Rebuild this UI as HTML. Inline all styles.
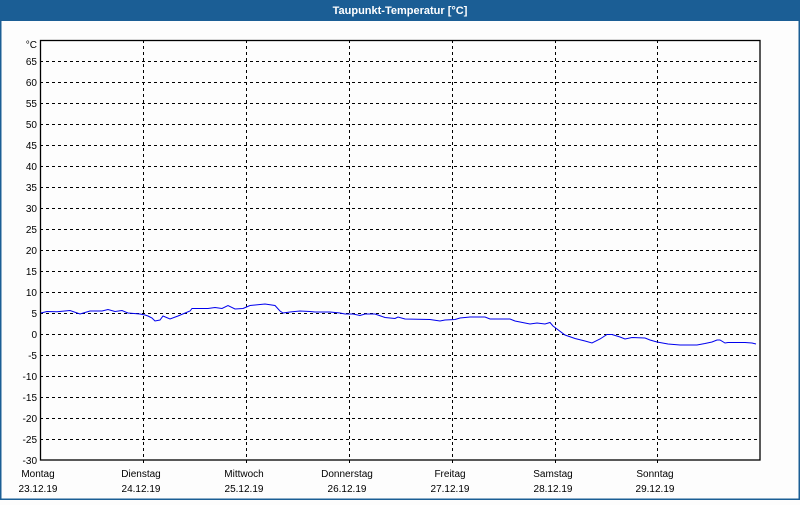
<!DOCTYPE html>
<html><head><meta charset="utf-8"><style>
body{margin:0;width:800px;height:500px;overflow:hidden;background:#fdfdfd;font-family:"Liberation Sans",sans-serif}
</style></head><body>
<svg width="800" height="500" xmlns="http://www.w3.org/2000/svg" font-family="Liberation Sans, sans-serif">
<rect x="0" y="0" width="800" height="500" fill="#fdfdfd"/>
<rect x="0" y="0" width="800" height="21" fill="#1b5e95"/>
<rect x="0" y="0" width="1.5" height="500" fill="#1b5e95"/>
<rect x="798.5" y="0" width="1.5" height="500" fill="#1b5e95"/>
<rect x="0" y="498.5" width="800" height="1.5" fill="#1b5e95"/>
<text x="400" y="14" fill="#fff" font-size="11" font-weight="bold" text-anchor="middle">Taupunkt-Temperatur [°C]</text>
<g stroke="#000" stroke-width="1" stroke-dasharray="3,3" fill="none">
<path d="M40 61.5H760M40 82.5H760M40 103.5H760M40 124.5H760M40 145.5H760M40 166.5H760M40 187.5H760M40 208.5H760M40 229.5H760M40 250.5H760M40 271.5H760M40 292.5H760M40 313.5H760M40 334.5H760M40 355.5H760M40 376.5H760M40 397.5H760M40 418.5H760M40 439.5H760"/>
<path d="M143.5 40V465M246.5 40V465M349.5 40V465M452.5 40V465M555.5 40V465M657.5 40V465"/>
</g>
<rect x="40.5" y="40.5" width="719.5" height="419.5" fill="none" stroke="#000" stroke-width="1.3"/>
<g font-size="10" fill="#000" text-anchor="end">
<text x="37" y="48">°C</text>
<text x="37" y="65">65</text><text x="37" y="86">60</text><text x="37" y="107">55</text><text x="37" y="128">50</text><text x="37" y="149">45</text><text x="37" y="170">40</text><text x="37" y="191">35</text><text x="37" y="212">30</text><text x="37" y="233">25</text><text x="37" y="254">20</text><text x="37" y="275">15</text><text x="37" y="296">10</text><text x="37" y="317">5</text><text x="37" y="338">0</text><text x="37" y="359">-5</text><text x="37" y="380">-10</text><text x="37" y="401">-15</text><text x="37" y="422">-20</text><text x="37" y="443">-25</text><text x="37" y="464">-30</text>
</g>
<g font-size="10" fill="#000" text-anchor="middle">
<text x="38" y="477">Montag</text><text x="38" y="492">23.12.19</text>
<text x="141" y="477">Dienstag</text><text x="141" y="492">24.12.19</text>
<text x="244" y="477">Mittwoch</text><text x="244" y="492">25.12.19</text>
<text x="347" y="477">Donnerstag</text><text x="347" y="492">26.12.19</text>
<text x="450" y="477">Freitag</text><text x="450" y="492">27.12.19</text>
<text x="553" y="477">Samstag</text><text x="553" y="492">28.12.19</text>
<text x="655" y="477">Sonntag</text><text x="655" y="492">29.12.19</text>
</g>
<polyline fill="none" stroke="#0000ee" stroke-width="1" points="41,313 47,311.5 57,311.7 70,310.5 80,314 90,311 102,311 108,309.5 115,311.5 122,310.5 128,313 140,314 145,315 148,316 152,318 155,321 160,320 163,316 170,319 178,316 190,311 192,308.5 208,308.5 215,307.5 222,308.5 228,305.5 235,309 243,308.5 250,305.5 265,304 275,305.5 280,311 283,313 290,312 300,311 310,311.5 315,312 330,312 340,313 345,314 353,314 360,315.5 365,314 375,314 385,317.5 395,318.5 398,317 405,319 430,319.5 440,321 445,320 455,319.5 460,318 470,317 485,317 490,319 510,319 515,321 525,323 530,324 537,323 545,324 550,322.5 553,326 565,335 575,338.5 585,341 592,343 600,339 607,334.5 612,334.5 620,337 625,339 632,337.5 645,338 650,340 657,342 668,344 680,345 697,345 705,343.5 712,342 717,340 720,340 725,343 728,342.5 745,342.5 752,343 756,344"/>
</svg>
</body></html>
